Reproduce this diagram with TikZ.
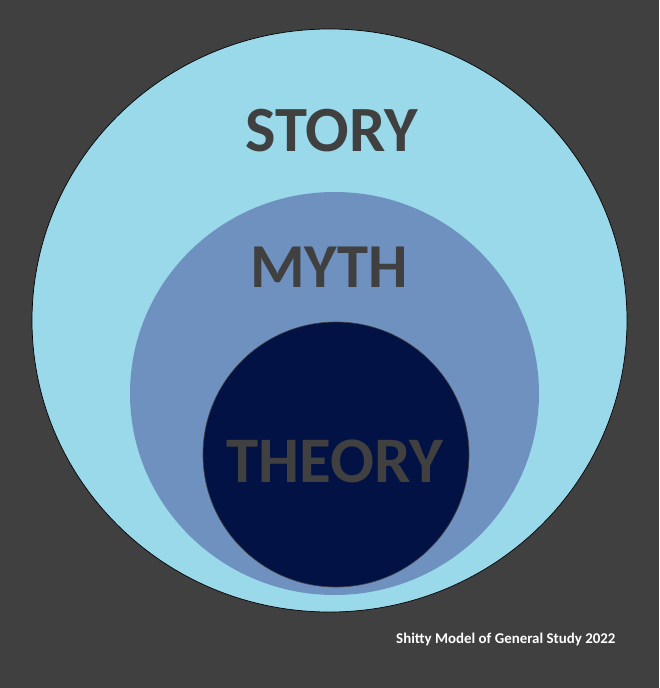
\documentclass[tikz,border=0pt]{standalone}
\usepackage{fontspec}
\setmainfont{Carlito}
\usetikzlibrary{positioning}

\definecolor{bggray}{HTML}{404040}
\definecolor{storyblue}{HTML}{99D9EA}
\definecolor{mythblue}{HTML}{6F91BF}
\definecolor{theorynavy}{HTML}{031244}

\tikzstyle{word} = [text=bggray, inner sep=0pt]
\tikzstyle{footnote} = [text=white, inner sep=0pt, font=\fontsize{14.9}{16}\selectfont\bfseries]

\begin{document}
\begin{tikzpicture}[x=1pt, y=-1pt]

\fill[bggray] (0,0) rectangle (659,688);
\useasboundingbox (0,0) rectangle (659,688);

% nested sets
\filldraw[fill=storyblue, draw=black, line width=0.7pt] (329.5,320.5) ellipse [x radius=297.5, y radius=291.5];
\fill[mythblue] (334.5,393.5) ellipse [x radius=204.5, y radius=201.5];
\filldraw[fill=theorynavy, draw=bggray, line width=0.6pt] (336,454.5) ellipse [x radius=133, y radius=132.5];

\node (story) [word, font=\fontsize{64.5}{64.5}\selectfont\bfseries] at (331.5,130.5) {STORY};
\node (myth) [word, font=\fontsize{62.5}{62.5}\selectfont\bfseries] at (329,267) {MYTH};
\node (theory) [word, font=\fontsize{65}{65}\selectfont\bfseries] at (335,461.5) {THEORY};

\node (credit) [footnote, anchor=base west] at (396,643.5) {Shitty Model of General Study 2022};

\end{tikzpicture}
\end{document}
